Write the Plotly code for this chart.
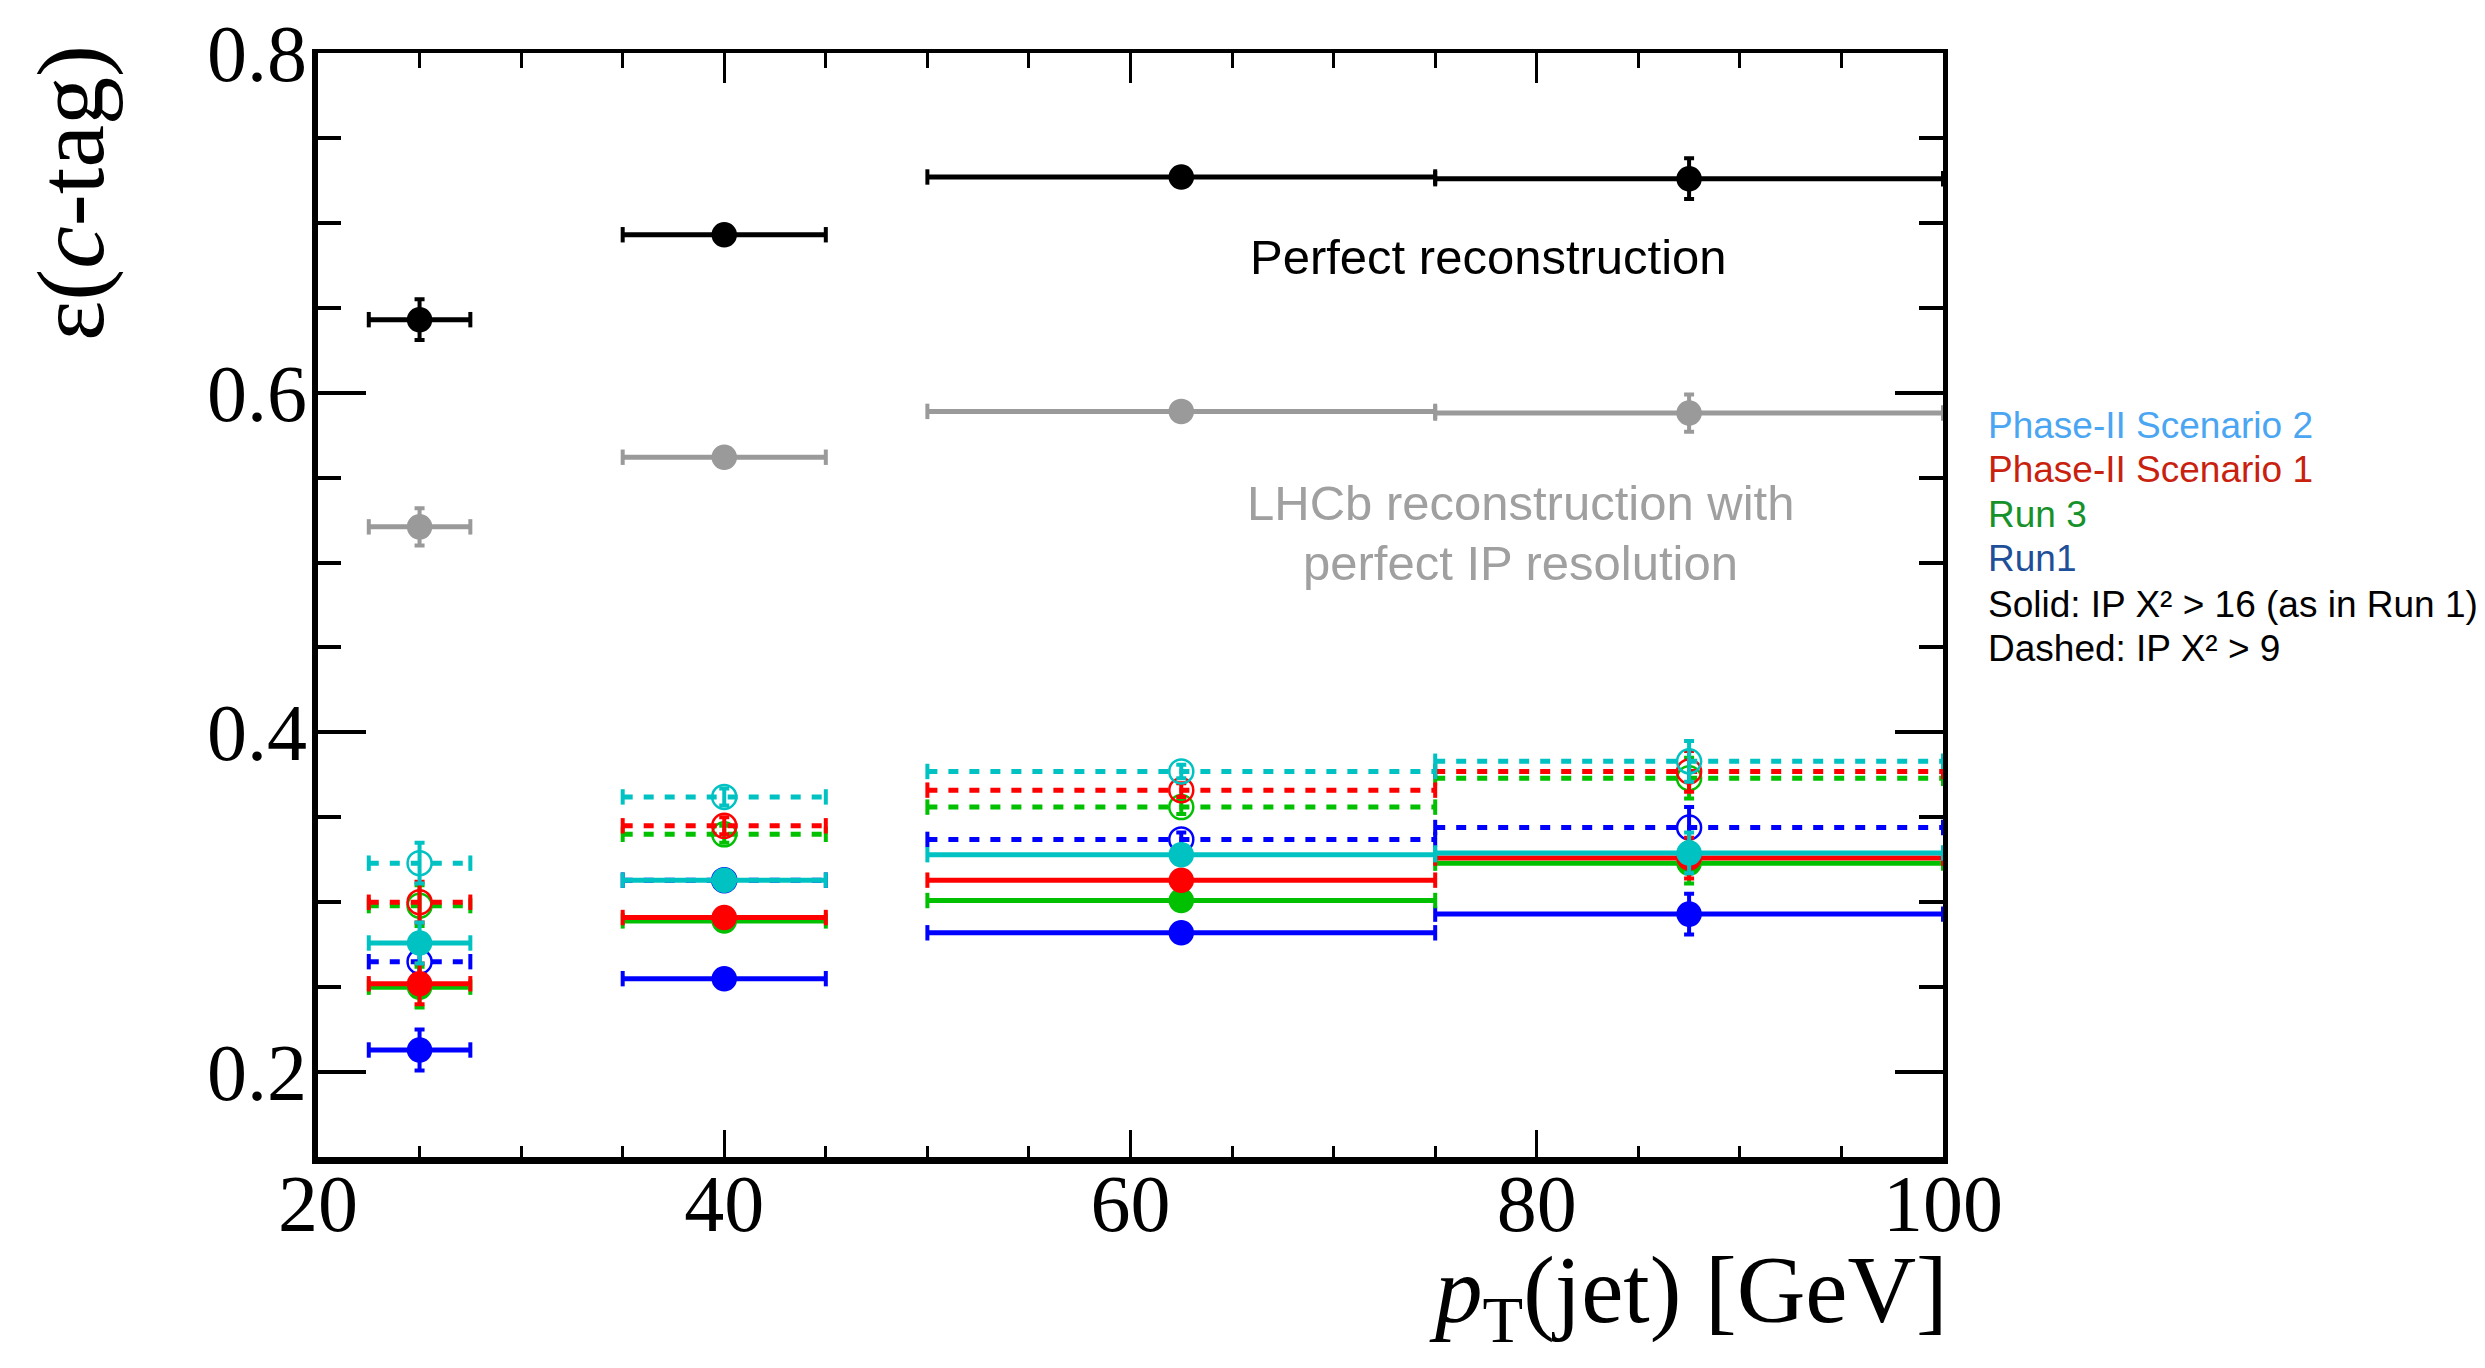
import plotly.graph_objects as go

# ---------------- data ----------------
bin_centers = [25, 40, 62.5, 87.5]
bin_halfwidths = [2.5, 5, 12.5, 12.5]

perfect = [0.643, 0.693, 0.727, 0.726]
perfect_err = [0.012, 0.005, 0.004, 0.012]
perfect_ip = [0.521, 0.562, 0.589, 0.588]
perfect_ip_err = [0.011, 0.005, 0.004, 0.011]

run1_solid = [0.213, 0.255, 0.282, 0.293]
run1_dashed = [0.265, 0.313, 0.337, 0.344]
run3_solid = [0.250, 0.289, 0.301, 0.323]
run3_dashed = [0.298, 0.340, 0.356, 0.373]
ph1_solid = [0.252, 0.291, 0.313, 0.326]
ph1_dashed = [0.300, 0.345, 0.366, 0.377]
ph2_solid = [0.276, 0.313, 0.328, 0.329]
ph2_dashed = [0.323, 0.362, 0.377, 0.383]
colored_err = [0.012, 0.005, 0.004, 0.012]

legend_labels = ["Phase-II Scenario 2", "Phase-II Scenario 1", "Run 3", "Run1",
                 "Solid: IP X\u00b2 > 16 (as in Run 1)", "Dashed: IP X\u00b2 > 9"]
legend_colors = ["#4aa6f2", "#c8220f", "#17912a", "#1f4f98", "#000000", "#000000"]

x_ticks = [20, 40, 60, 80, 100]
y_ticks = [0.2, 0.4, 0.6, 0.8]

CYAN, RED, GREEN, BLUE = "#00c2c2", "#ff0000", "#00c000", "#0000ff"

fig = go.Figure()


def add_series(values, errs, color, dashed, open_marker):
    xs, ys = [], []
    for c, hw, v in zip(bin_centers, bin_halfwidths, values):
        xs += [c - hw, c + hw, None]
        ys += [v, v, None]
    fig.add_trace(go.Scatter(
        x=xs, y=ys, mode="lines+markers",
        line=dict(color=color, width=5, dash="10px,11px" if dashed else "solid"),
        marker=dict(symbol="line-ns", size=11, line=dict(color=color, width=4)),
        showlegend=False, hoverinfo="skip"))
    fig.add_trace(go.Scatter(
        x=bin_centers, y=values, mode="markers",
        marker=dict(symbol="circle-open" if open_marker else "circle",
                    size=24 if open_marker else 23,
                    color=color, line=dict(color=color, width=2.5)),
        error_y=dict(type="data", array=errs, color=color, thickness=4, width=5),
        showlegend=False))


add_series(run1_dashed, colored_err, BLUE, True, True)
add_series(run1_solid, colored_err, BLUE, False, False)
add_series(run3_dashed, colored_err, GREEN, True, True)
add_series(run3_solid, colored_err, GREEN, False, False)
add_series(ph1_dashed, colored_err, RED, True, True)
add_series(ph1_solid, colored_err, RED, False, False)
add_series(ph2_dashed, colored_err, CYAN, True, True)
add_series(ph2_solid, colored_err, CYAN, False, False)
add_series(perfect_ip, perfect_ip_err, "#9a9a9a", False, False)
add_series(perfect, perfect_err, "#000000", False, False)

# dummy trace for the mirrored (top/right) axes
fig.add_trace(go.Scatter(x=[50], y=[0.5], xaxis="x2", yaxis="y2", mode="markers",
                         marker=dict(opacity=0), showlegend=False, hoverinfo="skip"))

XR = [20, 100]
YR = [0.15, 0.8]
serif = "Liberation Serif"
sans = "Liberation Sans"

fig.update_layout(
    width=2477, height=1360,
    margin=dict(l=310, r=542, t=45, b=211, autoexpand=False),
    paper_bgcolor="white", plot_bgcolor="white",
    showlegend=False,
    xaxis=dict(range=XR, automargin=False, showgrid=False, zeroline=False, showline=True,
               linecolor="black", linewidth=7, ticks="inside", ticklen=27, tickwidth=3,
               tickcolor="black", tickvals=x_ticks, ticklabelstandoff=-29,
               minor=dict(ticks="inside", ticklen=11, tickwidth=3, dtick=5, tickcolor="black"),
               tickfont=dict(family=serif, size=80, color="black")),
    yaxis=dict(range=YR, automargin=False, showgrid=False, zeroline=False, showline=True,
               linecolor="black", linewidth=6, ticks="inside", ticklen=48, tickwidth=4,
               tickcolor="black", tickvals=y_ticks, tickformat=".1f", ticklabelstandoff=-11,
               minor=dict(ticks="inside", ticklen=23, tickwidth=4, dtick=0.05, tick0=0.2,
                          tickcolor="black"),
               tickfont=dict(family=serif, size=80, color="black")),
    xaxis2=dict(range=XR, automargin=False, overlaying="x", side="top", anchor="y",
                showgrid=False, zeroline=False, showline=True, linecolor="black", linewidth=4,
                ticks="inside", ticklen=30, tickwidth=3, tickcolor="black",
                tickvals=x_ticks, showticklabels=False,
                minor=dict(ticks="inside", ticklen=15, tickwidth=3, dtick=5, tickcolor="black")),
    yaxis2=dict(range=YR, automargin=False, overlaying="y", side="right", anchor="x",
                showgrid=False, zeroline=False, showline=True, linecolor="black", linewidth=5,
                ticks="inside", ticklen=48, tickwidth=4, tickcolor="black",
                tickvals=y_ticks, showticklabels=False,
                minor=dict(ticks="inside", ticklen=24, tickwidth=4, dtick=0.05, tick0=0.2,
                           tickcolor="black")),
)

annotations = [
    dict(text="\u03b5(<i>c</i>-tag)", xref="paper", yref="paper", x=-0.1526, y=1.009,
         xanchor="center", yanchor="top", textangle=-90, showarrow=False,
         font=dict(family=serif, size=96, color="black")),
    dict(text="<i>p</i><sub>T</sub>(jet) [GeV]", xref="paper", yref="paper", x=1.004, y=-0.126,
         xanchor="right", yanchor="middle", showarrow=False,
         font=dict(family=serif, size=95, color="black")),
    dict(text="Perfect reconstruction", xref="x", yref="y", x=77.6, y=0.68,
         xanchor="center", yanchor="middle", showarrow=False,
         font=dict(family=sans, size=49, color="black")),
    dict(text="LHCb reconstruction with", xref="x", yref="y", x=79.2, y=0.535,
         xanchor="center", yanchor="middle", showarrow=False,
         font=dict(family=sans, size=49, color="#a0a0a0")),
    dict(text="perfect IP resolution", xref="x", yref="y", x=79.2, y=0.50,
         xanchor="center", yanchor="middle", showarrow=False,
         font=dict(family=sans, size=49, color="#a0a0a0")),
]
legend_y = [0.6628, 0.6229, 0.5821, 0.5423, 0.5006, 0.4608]
for lab, col, yy in zip(legend_labels, legend_colors, legend_y):
    annotations.append(dict(text=lab, xref="paper", yref="paper", x=1.0265, y=yy,
                            xanchor="left", yanchor="middle", showarrow=False,
                            font=dict(family=sans, size=37, color=col)))
fig.update_layout(annotations=annotations)

fig.write_html("out.html")
